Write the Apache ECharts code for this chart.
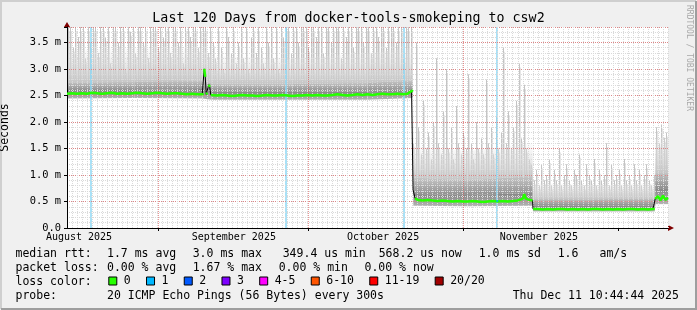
<!DOCTYPE html>
<html><head><meta charset="utf-8">
<script src="https://cdn.jsdelivr.net/npm/echarts@6/dist/echarts.min.js"></script>
<style>html,body{margin:0;padding:0;background:#f0f0f0}#c{width:697px;height:310px}</style>
</head><body><div id="c"></div>
<script>
// ---------------- data (x = days since window start, y = milliseconds) ----------------
const chartTitle = 'Last 120 Days from docker-tools-smokeping to csw2';
const yMax = 3.79;
const xLabelDays = [2.4, 33.3, 63.1, 94.2];
const xLabels = ['August 2025', 'September 2025', 'October 2025', 'November 2025'];
const monthStartDays = [18.17, 48.12, 79.07, 110.02];
const yTickValues = [0, 0.5, 1, 1.5, 2, 2.5, 3, 3.5];
const yTickLabels = ['0.0', '0.5 m', '1.0 m', '1.5 m', '2.0 m', '2.5 m', '3.0 m', '3.5 m'];
const lossLineDays = [4.8, 43.7, 67.3, 85.9];
const lossPoints = [[85.9, 0.51]];

const medianDays = [
  0,1,2,3,4,5,6,7,8,9,10,11,12,13,14,15,16,17,18,19,20,21,22,23,24,25,26,27,
  27.3,27.4,27.6,27.8,28,28.3,28.5,28.7,
  29,30,31,32,33,34,35,36,37,38,39,40,41,42,43,44,45,46,47,48,49,50,51,52,53,54,55,56,57,58,59,60,61,62,63,64,65,66,67,68,
  68.4,68.8,69.05,69.1,69.5,
  70,71,72,73,74,75,76,77,78,79,80,81,82,83,84,85,86,87,88,89,90,91,
  91.3,91.6,92,92.95,93.05,
  94,95,96,97,98,99,100,101,102,103,104,105,106,107,108,109,110,111,112,113,114,115,116,117,
  117.35,117.45,118,118.5,119,119.5,120
];
const medianMs = [
  2.53,2.54,2.53,2.54,2.53,2.55,2.54,2.53,2.54,2.55,2.53,2.54,2.53,2.54,2.55,2.54,2.53,2.54,2.55,2.54,2.53,2.54,2.54,2.53,2.52,2.53,2.52,2.52,
  2.53,3.00,2.85,2.52,2.55,2.70,2.66,2.51,
  2.50,2.50,2.51,2.50,2.49,2.50,2.51,2.50,2.50,2.49,2.50,2.51,2.50,2.50,2.51,2.50,2.49,2.50,2.50,2.51,2.50,2.51,2.50,2.50,2.51,2.52,2.51,2.50,2.51,2.52,2.51,2.52,2.51,2.52,2.53,2.52,2.52,2.53,2.52,2.53,
  2.56,2.58,2.60,0.72,0.56,
  0.53,0.52,0.53,0.52,0.51,0.52,0.51,0.50,0.51,0.50,0.50,0.51,0.50,0.49,0.50,0.51,0.50,0.51,0.50,0.51,0.52,0.55,
  0.64,0.56,0.54,0.52,0.36,
  0.36,0.35,0.36,0.35,0.36,0.36,0.35,0.36,0.35,0.36,0.35,0.36,0.36,0.35,0.36,0.35,0.36,0.35,0.36,0.36,0.35,0.36,0.35,0.36,
  0.36,0.55,0.60,0.52,0.61,0.53,0.57
];

// smoke bands (lower edge, dark band top, mid band top, light haze top)
const bandDays  = [0,    13.5, 27,   28.9, 45,   60,   69.05, 69.15, 80,   92.95, 93.05, 105,  117.35, 117.45, 120];
const smokeLo   = [2.44, 2.45, 2.44, 2.42, 2.42, 2.42, 2.45,  0.42,  0.41, 0.42,  0.31,  0.31, 0.31,   0.45,   0.45];
const smokeDark = [2.60, 2.60, 2.62, 2.58, 2.58, 2.58, 2.62,  0.64,  0.62, 0.66,  0.42,  0.42, 0.42,   0.75,   0.75];
const smokeMid  = [2.74, 2.76, 2.78, 2.72, 2.72, 2.74, 2.78,  0.95,  0.90, 0.98,  0.55,  0.54, 0.56,   1.05,   1.05];
const smokeHaze = [3.35, 3.40, 3.40, 3.25, 3.20, 3.30, 3.40,  1.55,  1.45, 1.60,  0.85,  0.80, 0.85,   1.70,   1.70];
// gradient colour stops per band: [bottom, top]
const bandColors = [['#b4b4b4', '#858585'], ['#909090', '#c6c6c6'], ['#c6c6c6', 'rgba(232,232,232,0.15)']];

// individual ping spikes, two per day (tops, ms)
const spikeTops = [
  3.79,3.79,3.4,3.79,3.6,3.79,3.79,3.2,3.79,3.5,3.79,3.79,3.3,3.79,3.79,3.6,3.79,3.1,3.79,3.79,
  3.5,3.79,3.79,3.0,3.79,3.7,3.79,3.3,3.79,3.79,3.5,3.79,3.2,3.79,3.79,3.79,3.4,3.79,3.6,3.79,
  3.79,3.3,3.79,3.79,3.5,3.79,3.1,3.79,3.79,3.6,3.79,3.79,3.4,3.79,3.79,3.79,3.3,3.79,3.5,3.2,
  3.79,3.4,3.0,3.79,3.6,3.3,3.79,3.1,3.5,3.79,3.2,3.79,3.0,3.6,3.79,3.3,3.79,3.4,3.1,3.79,
  3.5,3.79,3.2,3.79,3.0,3.79,3.6,3.79,3.79,3.3,3.79,3.79,3.5,3.79,3.79,3.79,3.4,3.79,3.79,3.6,
  3.79,3.79,3.3,3.79,3.79,3.5,3.79,3.79,3.79,3.2,3.79,3.6,3.79,3.79,3.4,3.79,3.79,3.79,3.5,3.79,
  3.79,3.3,3.79,3.79,3.6,3.79,3.79,3.4,3.79,3.79,3.79,3.5,3.79,3.79,3.2,3.79,3.79,3.79,
  1.6,3.5,1.9,1.4,2.4,1.5,1.8,1.3,2.0,3.2,1.6,1.4,2.2,3.0,1.5,1.9,1.3,2.3,1.6,1.4,1.8,1.5,2.9,1.6,
  1.3,2.0,1.5,1.7,1.4,2.8,1.6,1.9,1.4,2.1,1.5,1.8,3.4,1.6,2.2,1.5,1.9,2.4,3.1,1.7,2.7,1.5,1.3,1.2,
  0.9,1.1,0.8,1.2,0.9,1.0,1.3,0.8,1.1,0.9,1.5,0.8,1.0,1.2,0.9,0.8,1.1,1.0,1.4,0.9,
  0.8,1.2,1.0,0.9,1.3,0.8,1.1,0.9,1.0,1.6,0.8,1.2,0.9,1.0,1.1,0.8,1.3,0.9,1.0,0.8,
  1.2,0.9,1.1,0.8,1.0,1.2,0.9,0.8,1.0,
  1.9,1.6,1.95,1.7,1.8
];
const sectionEdges = [0, 69.1, 93.0, 117.4, 120];
const sectionBase = [2.6, 0.62, 0.42, 0.72];

const lossNames  = ['0', '1', '2', '3', '4-5', '6-10', '11-19', '20/20'];
const lossColors = ['#26ff00', '#00b8ff', '#0059ff', '#7e00ff', '#ff00ff', '#ff5500', '#ff0000', '#a10000'];

const statRows = [
  ['median rtt:', '1.7 ms avg', '3.0 ms max', '349.4 us min', '568.2 us now', '1.0 ms sd', '1.6', 'am/s'],
  ['packet loss:', '0.00 % avg', '1.67 % max', '0.00 % min', '0.00 % now'],
  ['loss color:'],
  ['probe:', '20 ICMP Echo Pings (56 Bytes) every 300s', 'Thu Dec 11 10:44:44 2025']
];
// layout of the text rows (pixels)
const statRowY = [254.5, 268, 281.8, 296.3];
const statColX = [
  [15.5, 107, 192.7, 282.7, 378.7, 478.7, 557.7, 599.5],
  [15.5, 107, 192.7, 278.7, 364.5],
  [15.5],
  [15.5, 107, 512.7]
];

// ---------------- build ----------------
const FONT = 'DejaVu Sans Mono';
const pairs = (xs, ys) => xs.map((x, i) => [x, ys[i]]);

const medianPts = pairs(medianDays, medianMs);
const greenPts = [];
medianPts.forEach((p, i) => {
  if (i > 0 && Math.abs(p[1] - medianPts[i - 1][1]) > 0.15) greenPts.push([(p[0] + medianPts[i - 1][0]) / 2, '-']);
  greenPts.push(p);
});
const spikeData = spikeTops.map((top, i) => {
  const x = 0.25 + 0.5 * i;
  let s = 0;
  while (s < sectionBase.length - 1 && x >= sectionEdges[s + 1]) s++;
  return [x, sectionBase[s], top];
});
// band quads: [x0, x1, lo0, lo1, hi0, hi1, bandIndex]
const bandEdges = [smokeLo, smokeDark, smokeMid, smokeHaze];
const bandData = [];
for (let b = 0; b < 3; b++) {
  for (let i = 0; i < bandDays.length - 1; i++) {
    bandData.push([bandDays[i], bandDays[i + 1], bandEdges[b][i], bandEdges[b][i + 1], bandEdges[b + 1][i], bandEdges[b + 1][i + 1], b]);
  }
}

const graphics = [];
graphics.push({type: 'polyline', silent: true, shape: {points: [[1, 309], [1, 1], [696, 1]]}, style: {stroke: '#cfcfcf', lineWidth: 2, fill: null}});
graphics.push({type: 'polyline', silent: true, shape: {points: [[1, 309], [696, 309], [696, 1]]}, style: {stroke: '#9e9e9e', lineWidth: 2, fill: null}});
graphics.push({type: 'text', x: 348.5, y: 18.5, style: {text: chartTitle, fontSize: 13.3, fontFamily: FONT, fill: '#000', align: 'center', verticalAlign: 'middle'}});
graphics.push({type: 'text', x: 689, y: 5, rotation: -Math.PI / 2, style: {text: 'RRDTOOL / TOBI OETIKER', fontSize: 8, fontFamily: FONT, fill: '#a8a8a8', align: 'left', verticalAlign: 'middle'}});
statRows.forEach((row, r) => row.forEach((t, c) => {
  graphics.push({type: 'text', x: statColX[r][c], y: statRowY[r], style: {text: t, fontSize: 11.5, fontFamily: FONT, fill: '#000', align: 'left', verticalAlign: 'middle'}});
}));

const series = [
  {type: 'custom', name: 'spikes', z: 2, silent: true, clip: true, data: spikeData,
   dimensions: ['x', 'lo', 'hi'], encode: {x: 0, y: [1, 2]},
   renderItem: function (params, api) {
     const p1 = api.coord([api.value(0), api.value(1)]);
     const p2 = api.coord([api.value(0), api.value(2)]);
     const x = Math.floor(p1[0]);
     return {type: 'group', children: [
       {type: 'rect', shape: {x: x + 1, y: p2[1] + 4, width: 1, height: p1[1] - p2[1] - 4}, style: {fill: '#e6e6e6'}},
       {type: 'rect', shape: {x: x, y: p2[1], width: 1, height: p1[1] - p2[1]}, style: {fill: '#c4c4c4'}}
     ]};
   }},
  {type: 'custom', name: 'smoke', z: 3, silent: true, clip: true, data: bandData,
   dimensions: ['x0', 'x1', 'lo0', 'lo1', 'hi0', 'hi1', 'band'], encode: {x: [0, 1], y: [2, 3, 4, 5]},
   renderItem: function (params, api) {
     const a = api.coord([api.value(0), api.value(2)]);
     const b = api.coord([api.value(1), api.value(3)]);
     const c = api.coord([api.value(1), api.value(5)]);
     const d = api.coord([api.value(0), api.value(4)]);
     const cols = bandColors[api.value(6)];
     const grad = new echarts.graphic.LinearGradient(0, 1, 0, 0, [{offset: 0, color: cols[0]}, {offset: 1, color: cols[1]}]);
     return {type: 'polygon', shape: {points: [a, b, c, d]}, style: {fill: grad}};
   }},
  {type: 'line', name: 'median', data: medianPts, showSymbol: false, silent: true, z: 11,
   lineStyle: {color: '#000', width: 1},
   markLine: {silent: true, z: 9, symbol: ['none', 'none'], label: {show: false}, animation: false,
     lineStyle: {color: 'rgba(222,80,80,0.6)', width: 1, type: [1, 1]},
     data: monthStartDays.map(d => ({xAxis: d}))}},
  {type: 'line', name: 'loss0', data: greenPts, showSymbol: false, silent: true, z: 12, connectNulls: false,
   lineStyle: {color: lossColors[0], width: 2.5}},
  {type: 'scatter', name: 'loss1', data: lossPoints, symbol: 'rect', symbolSize: 2, z: 13, silent: true,
   itemStyle: {color: lossColors[1]},
   markLine: {silent: true, z: 4, symbol: ['none', 'none'], label: {show: false}, animation: false,
     lineStyle: {color: '#8cd7f4', width: 1.5, type: 'solid'},
     data: lossLineDays.map(d => ({xAxis: d}))}}
];
lossNames.forEach((n, i) => series.push({type: 'bar', name: n, data: [], itemStyle: {color: lossColors[i]}}));

const option = {
  animation: false,
  backgroundColor: '#f0f0f0',
  graphic: graphics,
  legend: {
    data: lossNames, left: 108.3, top: 275, padding: 0, icon: 'rect', itemWidth: 8, itemHeight: 8, itemGap: 15.3,
    selectedMode: false, itemStyle: {borderColor: '#000', borderWidth: 1},
    textStyle: {fontSize: 11.5, fontFamily: FONT, color: '#000', padding: [0, 0, 0, 2]}
  },
  grid: {left: 67, top: 27, width: 601, height: 201, show: true, backgroundColor: '#ffffff', borderWidth: 0, containLabel: false, outerBoundsMode: 'none'},
  xAxis: [
    {type: 'value', min: 0, max: 120, interval: 1, position: 'bottom', z: 10,
     axisLine: {show: true, onZero: false, lineStyle: {color: '#000', width: 1}},
     axisTick: {show: false},
     axisLabel: {customValues: xLabelDays, margin: 4, fontSize: 10, fontFamily: FONT, color: '#000',
       formatter: (v) => { const k = xLabelDays.findIndex(d => Math.abs(d - v) < 1e-6); return k >= 0 ? xLabels[k] : ''; }},
     splitLine: {show: true, lineStyle: {color: '#dadada', width: 1, type: [1, 1]}}},
    {type: 'value', min: 0, max: 120, position: 'bottom', z: 9,
     axisLine: {show: true, onZero: false, lineStyle: {color: '#7f0000', width: 1}, symbol: ['none', 'triangle'], symbolSize: [6, 6], symbolOffset: [0, 3]},
     axisTick: {show: true, customValues: monthStartDays, length: 3, lineStyle: {color: '#000'}},
     axisLabel: {show: false}, splitLine: {show: false}}
  ],
  yAxis: [
    {type: 'value', min: 0, max: yMax, interval: 0.1, position: 'left', z: 9,
     axisLine: {show: true, onZero: false, lineStyle: {color: '#7f0000', width: 1}, symbol: ['none', 'triangle'], symbolSize: [6, 5], symbolOffset: [0, 2.5]},
     axisTick: {show: false}, axisLabel: {show: false},
     splitLine: {show: true, lineStyle: {color: '#dadada', width: 1, type: [1, 1]}}},
    {type: 'value', min: 0, max: yMax, interval: 0.5, position: 'left', z: 10,
     axisLine: {show: true, onZero: false, lineStyle: {color: '#000', width: 1}},
     axisTick: {show: true, length: 3, lineStyle: {color: '#000'}},
     axisLabel: {margin: 6, fontSize: 10.4, fontFamily: FONT, color: '#000',
       formatter: (v) => { const k = yTickValues.findIndex(t => Math.abs(t - v) < 1e-6); return k >= 0 ? yTickLabels[k] : ''; }},
     splitLine: {show: true, lineStyle: {color: 'rgba(222,80,80,0.6)', width: 1, type: [1, 1]}},
     name: 'Seconds', nameLocation: 'middle', nameGap: 56,
     nameTextStyle: {fontSize: 11.5, fontFamily: FONT, color: '#000'}}
  ],
  series: series
};
const chart = echarts.init(document.getElementById('c'), null, {renderer: 'canvas'});
chart.setOption(option);
</script>
</body></html>
